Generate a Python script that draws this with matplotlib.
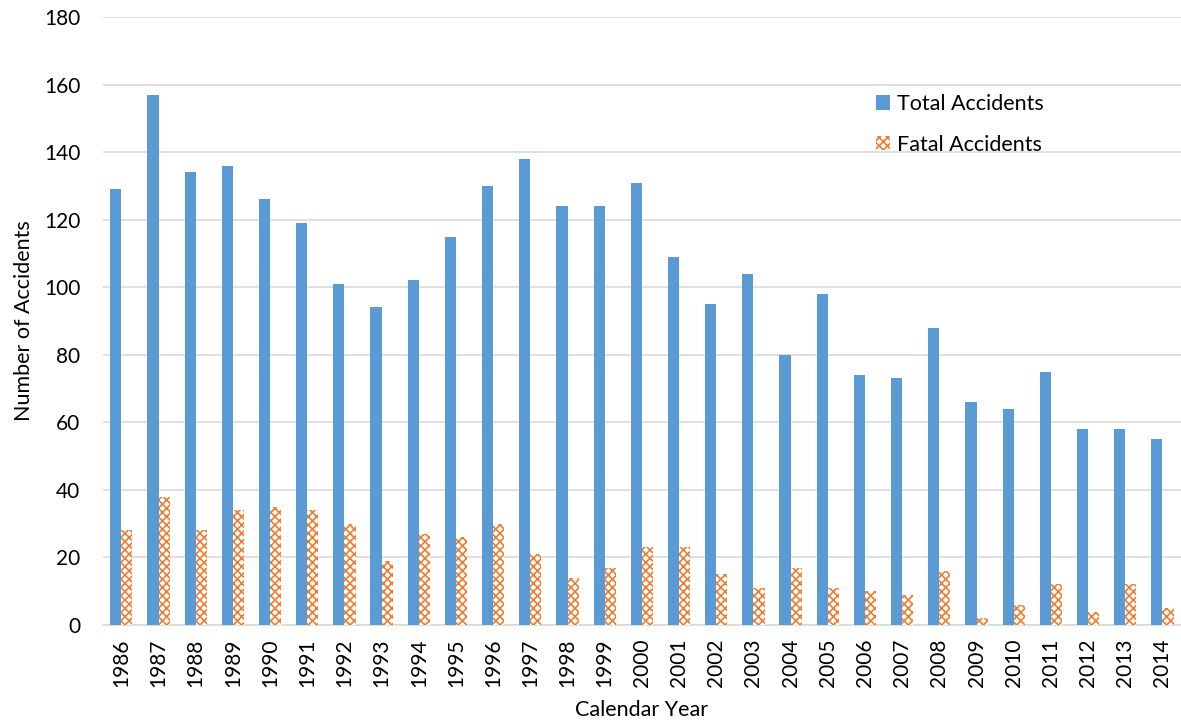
import numpy as np
import matplotlib
matplotlib.use('Agg')
import matplotlib.pyplot as plt

plt.rcParams['font.family'] = ['Lato', 'DejaVu Sans']
plt.rcParams['hatch.linewidth'] = 1.2

years = [str(y) for y in range(1986, 2015)]
total_accidents = [129, 157, 134, 136, 126, 119, 101, 94, 102, 115, 130, 138, 124, 124, 131,
                   109, 95, 104, 80, 98, 74, 73, 88, 66, 64, 75, 58, 58, 55]
fatal_accidents = [28, 38, 28, 34, 35, 34, 30, 19, 27, 26, 30, 21, 14, 17, 23,
                   23, 15, 11, 17, 11, 10, 9, 16, 2, 6, 12, 4, 12, 5]

fig = plt.figure(figsize=(11.81, 7.23), dpi=100)
ax = fig.add_axes([0.087, 0.1355, 0.913, 0.841])

x = np.arange(len(years))
w = 0.3
ax.bar(x - w / 2, total_accidents, w, color='#5B9BD5', label='Total Accidents', zorder=3)
ax.bar(x + w / 2, fatal_accidents, w, facecolor='white', edgecolor='#ED7D31', linewidth=0,
       hatch='xxxx', label='Fatal Accidents', zorder=3)

ax.set_xlim(-0.5, len(years) - 0.5)
ax.set_ylim(0, 180)
ax.set_yticks(range(0, 181, 20))
ax.set_xticks(x)
ax.set_xticklabels(years, rotation=90, fontsize=15)
ax.tick_params(axis='y', labelsize=15, length=0, pad=16)
ax.tick_params(axis='x', length=0, pad=10)
ax.grid(axis='y', color='#D9D9D9', linewidth=1.2, zorder=0)
for s in ['top', 'right', 'left']:
    ax.spines[s].set_visible(False)
ax.spines['bottom'].set_color('#D9D9D9')
ax.spines['bottom'].set_linewidth(1.2)

ax.set_xlabel('Calendar Year', fontsize=15.5, labelpad=9)
ax.set_ylabel('Number of Accidents', fontsize=15.5, labelpad=7)

ax.legend(loc='upper left', bbox_to_anchor=(0.699, 0.905), frameon=False, fontsize=15.5,
          handlelength=0.65, handleheight=0.65, handletextpad=0.35, labelspacing=0.95)

fig.savefig('out.png', dpi=100)
